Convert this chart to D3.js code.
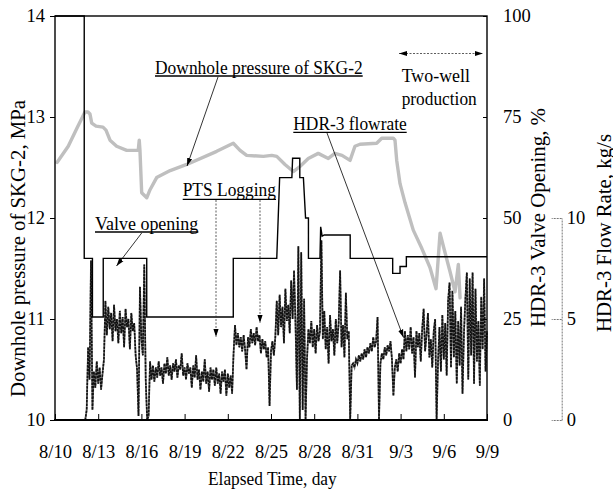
<!DOCTYPE html>
<html><head><meta charset="utf-8">
<script src="https://cdn.jsdelivr.net/npm/d3@7"></script>
<style>
html,body{margin:0;padding:0;background:#fff;}
svg{display:block;}
text{font-family:"Liberation Serif","Times New Roman",serif;fill:#000;}
</style></head><body>
<svg id="chart" width="613" height="492"></svg>
<script>
// ---- data ----
const xTickDays = [0,3,6,9,12,15,18,21,24,27,30];
const xTickLabels = ["8/10","8/13","8/16","8/19","8/22","8/25","8/28","8/31","9/3","9/6","9/9"];
const pressureTicks = [10,11,12,13,14];
const valveTicks = [0,25,50,75,100];
const flowTicks = [0,5,10];

// [day since 8/10, MPa]
const pressureSeries = [[0.14,12.55],[0.92,12.71],[1.53,12.89],[2.08,13.05],[2.29,13.05],[2.43,13.03],[2.55,12.94],[2.85,12.91],[3.33,12.90],[3.54,12.87],[3.82,12.77],[4.28,12.71],[4.98,12.67],[5.78,12.67],[5.85,12.77],[5.90,12.67],[6.02,12.25],[6.37,12.20],[6.60,12.28],[7.06,12.40],[8.0,12.47],[9.15,12.53],[11.23,12.66],[12.38,12.74],[12.85,12.67],[13.31,12.62],[14.47,12.61],[15.05,12.62],[15.40,12.61],[15.97,12.53],[16.55,12.46],[17.01,12.51],[17.59,12.59],[18.28,12.64],[18.98,12.59],[19.44,12.64],[19.93,12.62],[20.49,12.57],[20.83,12.71],[21.18,12.73],[22.34,12.74],[22.69,12.79],[23.49,12.79],[23.61,12.77],[23.73,12.57],[23.96,12.34],[24.31,12.15],[24.88,11.88],[25.47,11.70],[26.04,11.51],[26.46,11.30],[26.74,11.85],[26.97,11.72],[27.43,11.47],[27.78,11.27],[28.01,11.54],[28.13,11.21]];

// [day, %]
const valveSeries = [[0,100],[2.03,100],[2.03,40],[2.6,40],[2.6,25.5],[3.35,25.5],[3.35,40],[6.37,40],[6.37,25.5],[12.38,25.5],[12.38,40],[15.4,40],[15.6,60],[16.45,60],[16.5,64.8],[17.0,64.8],[17.0,60],[17.25,60],[17.4,50],[17.6,50],[17.6,40],[18.4,40],[18.45,47.8],[18.55,45.5],[18.7,45.8],[20.5,45.8],[20.5,40],[23.45,40],[23.45,36.3],[23.96,36.3],[23.96,38],[24.4,38],[24.4,40.4],[30,40.4]];

// [day, kg/s]
const flowSeries = [[2.1,0],[2.2,0.5],[2.3,3.6],[2.4,2.0],[2.5,7.9],[2.6,0.5],[2.7,2.4],[2.8,1.6],[2.9,2.9],[3.0,1.8],[3.1,2.6],[3.2,1.5],[3.3,2.3],[3.4,3.0],[3.5,5.9],
[3.6,4.2],[3.7,5.6],[3.8,4.5],[3.9,5.3],[4.0,3.9],[4.1,5.7],[4.2,4.4],[4.3,5.0],[4.4,3.8],[4.5,5.4],[4.6,4.3],[4.7,5.1],[4.8,3.6],[4.9,5.5],[5.0,4.6],[5.1,5.0],[5.2,3.5],[5.3,5.3],[5.4,4.4],[5.5,4.8],[5.6,3.2],[5.7,2.5],
[5.8,0.2],[5.9,6.6],[6.0,4.0],[6.1,3.2],[6.2,7.7],[6.3,2.0],[6.4,0.0],[6.5,0.2],[6.6,2.9],
[6.7,2.0],[6.8,2.7],[6.9,1.9],[7.0,2.6],[7.1,2.1],[7.2,2.9],[7.3,2.2],[7.4,2.6],[7.5,1.8],[7.6,2.8],[7.7,2.3],[7.8,3.1],[7.9,2.2],[8.0,2.7],[8.1,2.0],[8.2,2.8],[8.3,2.4],[8.4,3.0],[8.5,2.1],[8.6,2.7],[8.7,2.5],[8.8,3.3],[8.9,2.2],[9.0,2.6],[9.1,2.0],[9.2,2.8],[9.3,2.3],[9.4,2.6],[9.5,1.6],[9.6,2.7],[9.7,2.1],[9.8,3.2],[9.9,2.0],[10.0,2.5],[10.1,1.5],[10.2,2.4],[10.3,1.9],[10.4,3.0],[10.5,1.8],[10.6,2.4],[10.7,1.4],[10.8,2.6],[10.9,2.0],[11.0,2.5],[11.1,1.7],[11.2,2.6],[11.3,1.8],[11.4,2.3],[11.5,1.3],[11.6,2.4],[11.7,1.9],[11.8,2.5],[11.9,1.2],[12.0,2.3],[12.1,1.6],[12.2,2.2],[12.3,1.3],[12.4,3.3],
[12.5,4.7],[12.6,3.7],[12.7,4.3],[12.8,3.6],[12.9,4.1],[13.0,3.4],[13.1,4.2],[13.2,3.5],[13.3,2.5],[13.4,4.1],[13.5,3.6],[13.6,4.5],[13.7,3.8],[13.8,4.3],[13.9,3.7],[14.0,4.6],[14.1,3.9],[14.2,4.2],[14.3,3.3],[14.4,4.0],
[14.5,3.5],[14.6,3.9],[14.7,3.1],[14.8,3.6],[14.9,0.7],[15.0,3.4],[15.1,3.9],[15.2,3.2],[15.3,4.1],
[15.4,5.9],[15.5,4.2],[15.6,6.2],[15.7,4.6],[15.8,5.6],[15.9,3.8],[16.0,6.5],[16.1,4.9],[16.2,5.7],[16.3,4.3],[16.4,6.9],[16.5,5.0],[16.6,7.4],[16.7,4.8],
[16.8,1.5],[16.9,8.6],[17.0,0.0],[17.1,8.3],[17.2,0.5],[17.3,6.0],[17.4,0.0],[17.5,3.0],[17.6,4.5],
[17.7,3.8],[17.8,4.9],[17.9,3.6],[18.0,4.5],[18.1,3.3],[18.2,4.7],[18.3,3.9],[18.4,4.4],[18.5,8.9],[18.6,4.0],[18.7,5.4],[18.8,3.5],[18.9,4.6],[19.0,2.8],[19.1,5.2],[19.2,3.9],[19.3,4.5],[19.4,3.2],[19.5,5.0],[19.6,3.8],[19.7,4.8],[19.8,7.4],[19.9,3.6],[20.0,4.7],[20.1,3.1],[20.2,6.3],[20.3,4.0],[20.4,4.4],[20.5,0.0],
[20.6,2.7],[20.7,2.8],[20.8,2.6],[20.9,3.0],[21.0,2.8],[21.1,3.2],[21.2,2.9],[21.3,3.3],[21.4,3.0],[21.5,3.5],[21.6,3.1],[21.7,3.6],[21.8,3.3],[21.9,3.8],[22.0,3.4],[22.1,4.1],[22.2,3.6],[22.3,3.9],[22.4,5.1],[22.5,0.0],[22.6,2.8],[22.7,3.3],[22.8,3.0],[22.9,3.6],[23.0,3.2],[23.1,3.7],[23.2,3.4],[23.3,3.9],[23.4,3.0],[23.5,1.2],[23.6,2.6],[23.7,3.0],[23.8,2.4],[23.9,3.3],[24.0,2.8],[24.1,3.5],[24.2,3.0],[24.3,4.4],[24.4,3.4],[24.5,4.2],[24.6,3.5],[24.7,4.6],[24.8,3.3],[24.9,4.1],[25.0,2.1],[25.1,4.4],[25.2,3.6],[25.3,4.3],[25.4,2.9],[25.5,4.5],[25.6,5.5],[25.7,3.4],[25.8,4.2],[25.9,5.3],[26.0,3.1],[26.1,4.0],[26.2,2.6],[26.3,4.4],[26.4,5.0],[26.5,0.0],
[26.6,2.9],[26.7,4.6],[26.8,2.4],[26.9,5.2],[27.0,3.0],[27.1,4.8],[27.2,2.2],[27.3,5.9],[27.4,6.8],[27.5,2.6],[27.6,6.4],[27.7,3.1],[27.8,5.4],[27.9,1.8],[28.0,4.9],[28.1,2.7],[28.2,5.6],[28.3,1.3],[28.4,4.3],[28.5,6.0],[28.6,7.3],[28.7,2.0],[28.8,7.0],[28.9,3.2],[29.0,7.3],[29.1,1.8],[29.2,6.5],[29.3,2.9],[29.4,4.9],[29.5,1.7],[29.6,6.1],[29.7,3.5],[29.8,7.0],[29.9,2.4],[30.0,4.4]];

// ---- chart ----
const svg = d3.select("#chart");
const x = d3.scaleLinear().domain([0,30]).range([55,487]);
const yP = d3.scaleLinear().domain([10,14]).range([420,16]);
const yV = d3.scaleLinear().domain([0,100]).range([420,16]);
const yF = d3.scaleLinear().domain([0,10]).range([420,218]);

const defs = svg.append("defs");
defs.append("marker").attr("id","ah").attr("viewBox","0 0 10 10")
  .attr("refX",10).attr("refY",5).attr("markerWidth",8).attr("markerHeight",8)
  .attr("markerUnits","userSpaceOnUse").attr("orient","auto-start-reverse")
  .append("path").attr("d","M0,1.8L10,5L0,8.2Z").attr("fill","#000");

// series
const flowLine = d3.line().x(d=>x(d[0])).y(d=>yF(d[1]));
svg.append("path").datum(flowSeries)
  .attr("d", flowLine)
  .attr("fill","none").attr("stroke","#777").attr("stroke-width",1.8);
svg.append("path").datum(flowSeries)
  .attr("d", flowLine)
  .attr("fill","none").attr("stroke","#111").attr("stroke-width",1.6)
  .attr("stroke-dasharray","2.5,1");

svg.append("path").datum(pressureSeries)
  .attr("d", d3.line().x(d=>x(d[0])).y(d=>yP(d[1])))
  .attr("fill","none").attr("stroke","#bfbfbf").attr("stroke-width",3.4)
  .attr("stroke-linejoin","round").attr("stroke-linecap","round");

svg.append("path").datum(valveSeries)
  .attr("d", d3.line().x(d=>x(d[0])).y(d=>yV(d[1])))
  .attr("fill","none").attr("stroke","#000").attr("stroke-width",1.4);

// axes
function styleAxis(g, size){
  g.attr("font-family",null).attr("font-size",null);
  g.selectAll("text").style("font-size", size+"px").attr("fill","#000");
  g.selectAll("line").attr("stroke","#000");
}
const gl = svg.append("g").attr("transform","translate(55,0)")
  .call(d3.axisLeft(yP).tickValues(pressureTicks).tickSize(5).tickPadding(5).tickFormat(d3.format("d")));
gl.select(".domain").remove(); styleAxis(gl,18.5);

const gb = svg.append("g").attr("transform","translate(0,420)")
  .call(d3.axisBottom(x).tickValues(xTickDays).tickSizeInner(-6).tickSizeOuter(0).tickPadding(25)
  .tickFormat((d,i)=>xTickLabels[i]));
gb.select(".domain").remove(); styleAxis(gb,18.5);

const gr = svg.append("g").attr("transform","translate(487,0)")
  .call(d3.axisRight(yV).tickValues(valveTicks).tickSizeInner(-4).tickSizeOuter(0).tickPadding(16));
gr.select(".domain").remove(); styleAxis(gr,18.5);

const gf = svg.append("g").attr("transform","translate(561.7,0)")
  .call(d3.axisRight(yF).tickValues(flowTicks).tickSizeInner(-10).tickSizeOuter(0).tickPadding(5));
styleAxis(gf,18.5);
gf.select(".domain").attr("stroke","#777").attr("stroke-dasharray","2,1");
gf.selectAll(".tick line").attr("stroke","#777").attr("stroke-dasharray","2,1");

// frame
svg.append("rect").attr("x",55).attr("y",16).attr("width",432).attr("height",404)
  .attr("fill","none").attr("stroke","#000").attr("stroke-width",1.4);
svg.append("line").attr("x1",54).attr("x2",488).attr("y1",420).attr("y2",420)
  .attr("stroke","#000").attr("stroke-width",2.2);

// titles
function txt(s, px, py, w, size, rotate){
  const t = svg.append("text").text(s).style("font-size", size+"px")
    .attr("textLength", w).attr("lengthAdjust","spacingAndGlyphs");
  if (rotate){
    t.attr("text-anchor","middle").attr("transform",`translate(${px},${py}) rotate(-90)`);
  } else {
    t.attr("x",px).attr("y",py);
  }
  return t;
}
function ul(x1,x2,yy){
  svg.append("line").attr("x1",x1).attr("x2",x2).attr("y1",yy).attr("y2",yy)
    .attr("stroke","#000").attr("stroke-width",1.3);
}
txt("Downhole pressure of SKG-2, MPa", 24.5, 248.5, 297, 20.5, true);
txt("HDR-3 Valve Opening, %", 544.5, 217.5, 219, 20.5, true);
txt("HDR-3 Flow Rate, kg/s", 610.5, 233, 198, 20.5, true);
txt("Elapsed Time, day", 208, 485, 128.7, 18.5, false);

txt("Downhole pressure of SKG-2", 155, 74, 207.7, 19.5, false); ul(155,362.7,76);
txt("HDR-3 flowrate", 293.3, 130, 113.4, 19.5, false); ul(293.3,406.7,132.3);
txt("PTS Logging", 182.7, 195.5, 93.3, 19.5, false); ul(182.7,276,199.3);
txt("Valve opening", 95, 229.5, 103.3, 19.5, false); ul(95,198.3,232);
txt("Two-well", 401.7, 81.7, 68.3, 19.5, false);
txt("production", 401.7, 104.5, 75, 19.5, false);

// annotation arrows
function arrow(x1,y1,x2,y2,dash,both){
  const l = svg.append("line").attr("x1",x1).attr("y1",y1).attr("x2",x2).attr("y2",y2)
    .attr("stroke", dash ? "#333" : "#000").attr("stroke-width",0.8)
    .attr("marker-end","url(#ah)");
  if (dash) l.attr("stroke-dasharray",dash);
  if (both) l.attr("marker-start","url(#ah)");
}
arrow(218,77,187,166);
arrow(327,133,403.5,337.5);
arrow(141.7,233,116.5,266);
arrow(216,200,216,337,"2,1.5");
arrow(260,200,260,323,"2,1.5");
arrow(399,53.5,483,53.5,"2,1.5",true);
</script>
</body></html>
